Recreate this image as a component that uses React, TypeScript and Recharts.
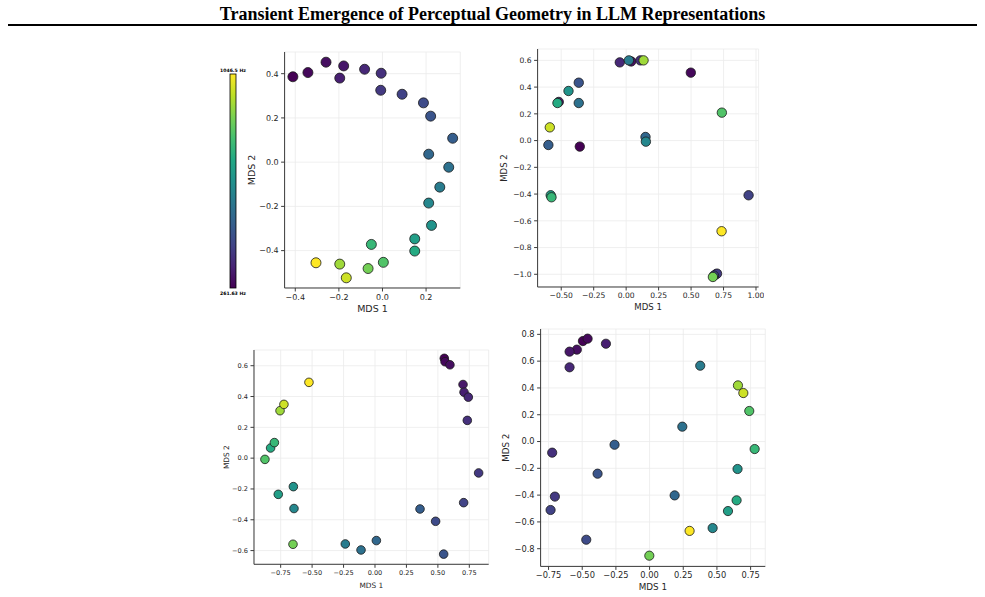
import { ScatterChart, Scatter, XAxis, YAxis, CartesianGrid } from 'recharts'

const FONT = '"DejaVu Sans", sans-serif'
const INK = '#262626'
const SPINE = '#3a3a3a'

// viridis anchors at 0, 0.1, ... 1.0
const VIRIDIS = ['#440154', '#482475', '#414487', '#355f8d', '#2a788e', '#21918c', '#22a884', '#44bf70', '#7ad151', '#bddf26', '#fde725']

// chromatic scale C4..C6, one entry per semitone
const NOTES_HZ = [
  261.63, 277.18, 293.66, 311.13, 329.63, 349.23, 369.99, 392.0, 415.3, 440.0, 466.16, 493.88, 523.25,
  554.37, 587.33, 622.25, 659.26, 698.46, 739.99, 783.99, 830.61, 880.0, 932.33, 987.77, 1046.5,
]
const F_MIN = 261.63
const F_MAX = 1046.5

// top-left panel
const p1X = [-0.411, -0.342, -0.259, -0.178, -0.196, -0.082, -0.006, -0.008, 0.09, 0.188, 0.221, 0.322, 0.212, 0.304, 0.263, 0.212, 0.225, 0.148, 0.148, -0.051, 0.004, -0.066, -0.196, -0.166, -0.305]
const p1Y = [0.386, 0.405, 0.452, 0.435, 0.38, 0.42, 0.402, 0.325, 0.307, 0.268, 0.208, 0.108, 0.036, -0.023, -0.113, -0.185, -0.286, -0.347, -0.402, -0.372, -0.453, -0.481, -0.461, -0.523, -0.455]
const p1Note = [0, 1, 2, 3, 4, 5, 6, 7, 8, 9, 10, 11, 12, 13, 14, 15, 16, 17, 18, 19, 20, 21, 22, 23, 24]

// top-right panel
const p2X = [-0.357, 0.498, 0.039, -0.519, 0.691, -0.049, 0.11, 0.7, 0.943, 0.676, -0.365, -0.599, 0.149, -0.365, 0.021, 0.152, -0.444, -0.581, -0.529, -0.575, 0.737, 0.668, 0.134, -0.588, 0.735]
const p2Y = [-0.045, 0.508, 0.592, 0.289, -1.0, 0.585, 0.6, -0.995, -0.409, -1.01, 0.433, -0.033, 0.027, 0.281, 0.6, -0.008, 0.371, -0.409, 0.281, -0.424, 0.209, -1.02, 0.6, 0.099, -0.678]
const p2Note = [0, 1, 2, 3, 4, 5, 6, 7, 8, 9, 10, 11, 12, 13, 14, 15, 16, 17, 18, 19, 20, 21, 22, 23, 24]

// bottom-left panel
const p3X = [0.551, 0.557, 0.596, 0.7, 0.708, 0.742, 0.734, 0.824, 0.705, 0.482, 0.546, 0.358, 0.011, -0.111, -0.236, -0.644, -0.649, -0.769, -0.83, -0.8, -0.875, -0.652, -0.755, -0.724, -0.525]
const p3Y = [0.648, 0.626, 0.606, 0.478, 0.428, 0.396, 0.245, -0.096, -0.289, -0.41, -0.623, -0.33, -0.535, -0.596, -0.557, -0.327, -0.185, -0.235, 0.066, 0.101, -0.008, -0.559, 0.308, 0.349, 0.492]
const p3Note = [0, 1, 2, 3, 4, 5, 6, 7, 8, 9, 10, 11, 12, 13, 14, 15, 16, 17, 18, 19, 20, 21, 22, 23, 24]

// bottom-right panel
const p4X = [-0.495, -0.46, -0.54, -0.594, -0.324, -0.594, -0.723, -0.703, -0.735, -0.47, -0.386, -0.26, 0.186, 0.243, 0.376, 0.468, 0.653, 0.582, 0.646, 0.78, 0.74, -0.002, 0.656, 0.696, 0.297]
const p4Y = [0.75, 0.768, 0.686, 0.671, 0.73, 0.554, -0.083, -0.411, -0.511, -0.733, -0.24, -0.024, -0.402, 0.111, 0.566, -0.646, -0.205, -0.519, -0.439, -0.056, 0.228, -0.852, 0.419, 0.362, -0.667]
const p4Note = [0, 1, 2, 3, 4, 5, 6, 7, 8, 9, 10, 11, 12, 13, 14, 15, 16, 17, 18, 19, 20, 21, 22, 23, 24]

const TICKS_04 = [-0.4, -0.2, 0, 0.2]
const TICKS_Y1 = [-0.4, -0.2, 0, 0.2, 0.4]
const TICKS_X2 = [-0.5, -0.25, 0, 0.25, 0.5, 0.75, 1.0]
const TICKS_Y2 = [-1.0, -0.8, -0.6, -0.4, -0.2, 0, 0.2, 0.4, 0.6]
const TICKS_X34 = [-0.75, -0.5, -0.25, 0, 0.25, 0.5, 0.75]
const TICKS_Y3 = [-0.6, -0.4, -0.2, 0, 0.2, 0.4, 0.6]
const TICKS_Y4 = [-0.8, -0.6, -0.4, -0.2, 0, 0.2, 0.4, 0.6, 0.8]

function hexToRgb(h: string) {
  const n = parseInt(h.slice(1), 16)
  return [(n >> 16) & 255, (n >> 8) & 255, n & 255]
}

function viridis(t: number) {
  const c = Math.min(1, Math.max(0, t)) * (VIRIDIS.length - 1)
  const i = Math.min(VIRIDIS.length - 2, Math.floor(c))
  const f = c - i
  const a = hexToRgb(VIRIDIS[i])
  const b = hexToRgb(VIRIDIS[i + 1])
  const m = a.map((v, k) => Math.round(v + (b[k] - v) * f))
  return `rgb(${m[0]},${m[1]},${m[2]})`
}

const fmt = (digits: number) => (v: number) => {
  const s = Math.abs(v).toFixed(digits)
  return v < -1e-9 ? `\u2212${s}` : s
}

interface PanelProps {
  xs: number[]
  ys: number[]
  notes: number[]
  x: number
  y: number
  w: number
  h: number
  xDomain: [number, number]
  yDomain: [number, number]
  xTicks: number[]
  yTicks: number[]
  xDigits: number
  yDigits: number
  tickFont: number
  labelFont: number
  yAxisW: number
  xAxisH: number
  r: number
}

function Panel(p: PanelProps) {
  const data = p.notes
    .map((n, i) => {
      const hz = NOTES_HZ[n]
      return { x: p.xs[i], y: p.ys[i], hz, color: viridis((hz - F_MIN) / (F_MAX - F_MIN)) }
    })
    .sort((a, b) => a.hz - b.hz)
  const mt = 6
  const mr = 6
  const tick = { fontSize: p.tickFont, fill: INK, fontFamily: FONT }
  const labelStyle = { fontSize: p.labelFont, fill: INK, fontFamily: FONT }
  return (
    <div style={{ position: 'absolute', left: p.x - p.yAxisW, top: p.y - mt }}>
      <ScatterChart
        width={p.yAxisW + p.w + mr}
        height={mt + p.h + p.xAxisH}
        margin={{ top: mt, right: mr, bottom: 0, left: 0 }}
      >
        <CartesianGrid stroke="#ebebeb" strokeWidth={0.8} />
        <XAxis
          type="number"
          dataKey="x"
          domain={p.xDomain}
          ticks={p.xTicks}
          interval={0}
          allowDataOverflow
          height={p.xAxisH}
          tickFormatter={fmt(p.xDigits)}
          tick={tick}
          tickSize={3.5}
          tickMargin={2.5}
          axisLine={{ stroke: SPINE, strokeWidth: 1 }}
          tickLine={{ stroke: SPINE }}
          label={{ value: 'MDS 1', position: 'center', ...labelStyle }}
        />
        <YAxis
          type="number"
          dataKey="y"
          domain={p.yDomain}
          ticks={p.yTicks}
          interval={0}
          allowDataOverflow
          width={p.yAxisW}
          tickFormatter={fmt(p.yDigits)}
          tick={tick}
          tickSize={3.5}
          tickMargin={2.5}
          axisLine={{ stroke: SPINE, strokeWidth: 1 }}
          tickLine={{ stroke: SPINE }}
          label={{ value: 'MDS 2', position: 'center', angle: -90, ...labelStyle }}
        />
        <Scatter
          data={data}
          isAnimationActive={false}
          shape={(s: any) => (
            <circle cx={s.cx} cy={s.cy} r={p.r} fill={s.payload?.color ?? s.fill} stroke="#1a1a1a" strokeWidth={0.8} />
          )}
        />
      </ScatterChart>
    </div>
  )
}

function ColorBar() {
  return (
    <svg width={60} height={250} style={{ position: 'absolute', left: 203, top: 60 }}>
      <defs>
        <linearGradient id="viridis-bar" x1="0" y1="1" x2="0" y2="0">
          {VIRIDIS.map((c, i) => (
            <stop key={c} offset={i / (VIRIDIS.length - 1)} stopColor={c} />
          ))}
        </linearGradient>
      </defs>
      <rect x={27} y={14} width={6} height={214} fill="url(#viridis-bar)" stroke="#000" strokeWidth={0.8} />
      <text x={30} y={11.5} textAnchor="middle" fontSize={4.6} fontWeight="bold" fontFamily={FONT} fill="#000">
        {`${F_MAX} Hz`}
      </text>
      <text x={30} y={235} textAnchor="middle" fontSize={4.6} fontWeight="bold" fontFamily={FONT} fill="#000">
        {`${F_MIN} Hz`}
      </text>
    </svg>
  )
}

export default function App() {
  return (
    <div style={{ position: 'absolute', left: 0, top: 0, width: 985, height: 597, background: '#fff', overflow: 'hidden' }}>
      <div
        style={{
          position: 'absolute',
          left: 0,
          top: 3,
          width: 985,
          textAlign: 'center',
          fontFamily: '"Liberation Serif", "Times New Roman", serif',
          fontWeight: 'bold',
          fontSize: 18,
          lineHeight: '22px',
          color: '#000',
        }}
      >
        Transient Emergence of Perceptual Geometry in LLM Representations
      </div>
      <div style={{ position: 'absolute', left: 8, top: 24, width: 969, height: 2, background: '#000' }} />

      <ColorBar />

      <Panel
        xs={p1X} ys={p1Y} notes={p1Note}
        x={284.3} y={51.7} w={175.7} h={236}
        xDomain={[-0.449, 0.357]} yDomain={[-0.569, 0.498]}
        xTicks={TICKS_04} yTicks={TICKS_Y1} xDigits={1} yDigits={1}
        tickFont={8} labelFont={9.5} yAxisW={66.6} xAxisH={40.6} r={5}
      />
      <Panel
        xs={p2X} ys={p2Y} notes={p2Note}
        x={537.3} y={49.3} w={221} h={238}
        xDomain={[-0.682, 1.02]} yDomain={[-1.095, 0.685]}
        xTicks={TICKS_X2} yTicks={TICKS_Y2} xDigits={2} yDigits={1}
        tickFont={7.6} labelFont={8.6} yAxisW={66.6} xAxisH={40.8} r={4.7}
      />
      <Panel
        xs={p3X} ys={p3Y} notes={p3Note}
        x={254} y={350} w={234.7} h={214.3}
        xDomain={[-0.962, 0.904]} yDomain={[-0.689, 0.702]}
        xTicks={TICKS_X34} yTicks={TICKS_Y3} xDigits={2} yDigits={1}
        tickFont={6.6} labelFont={7.4} yAxisW={56} xAxisH={41.4} r={4.3}
      />
      <Panel
        xs={p4X} ys={p4Y} notes={p4Note}
        x={540.3} y={329.3} w={224.7} h={237.4}
        xDomain={[-0.809, 0.859]} yDomain={[-0.932, 0.84]}
        xTicks={TICKS_X34} yTicks={TICKS_Y4} xDigits={2} yDigits={1}
        tickFont={8.3} labelFont={8.8} yAxisW={68.6} xAxisH={40} r={4.6}
      />
    </div>
  )
}
